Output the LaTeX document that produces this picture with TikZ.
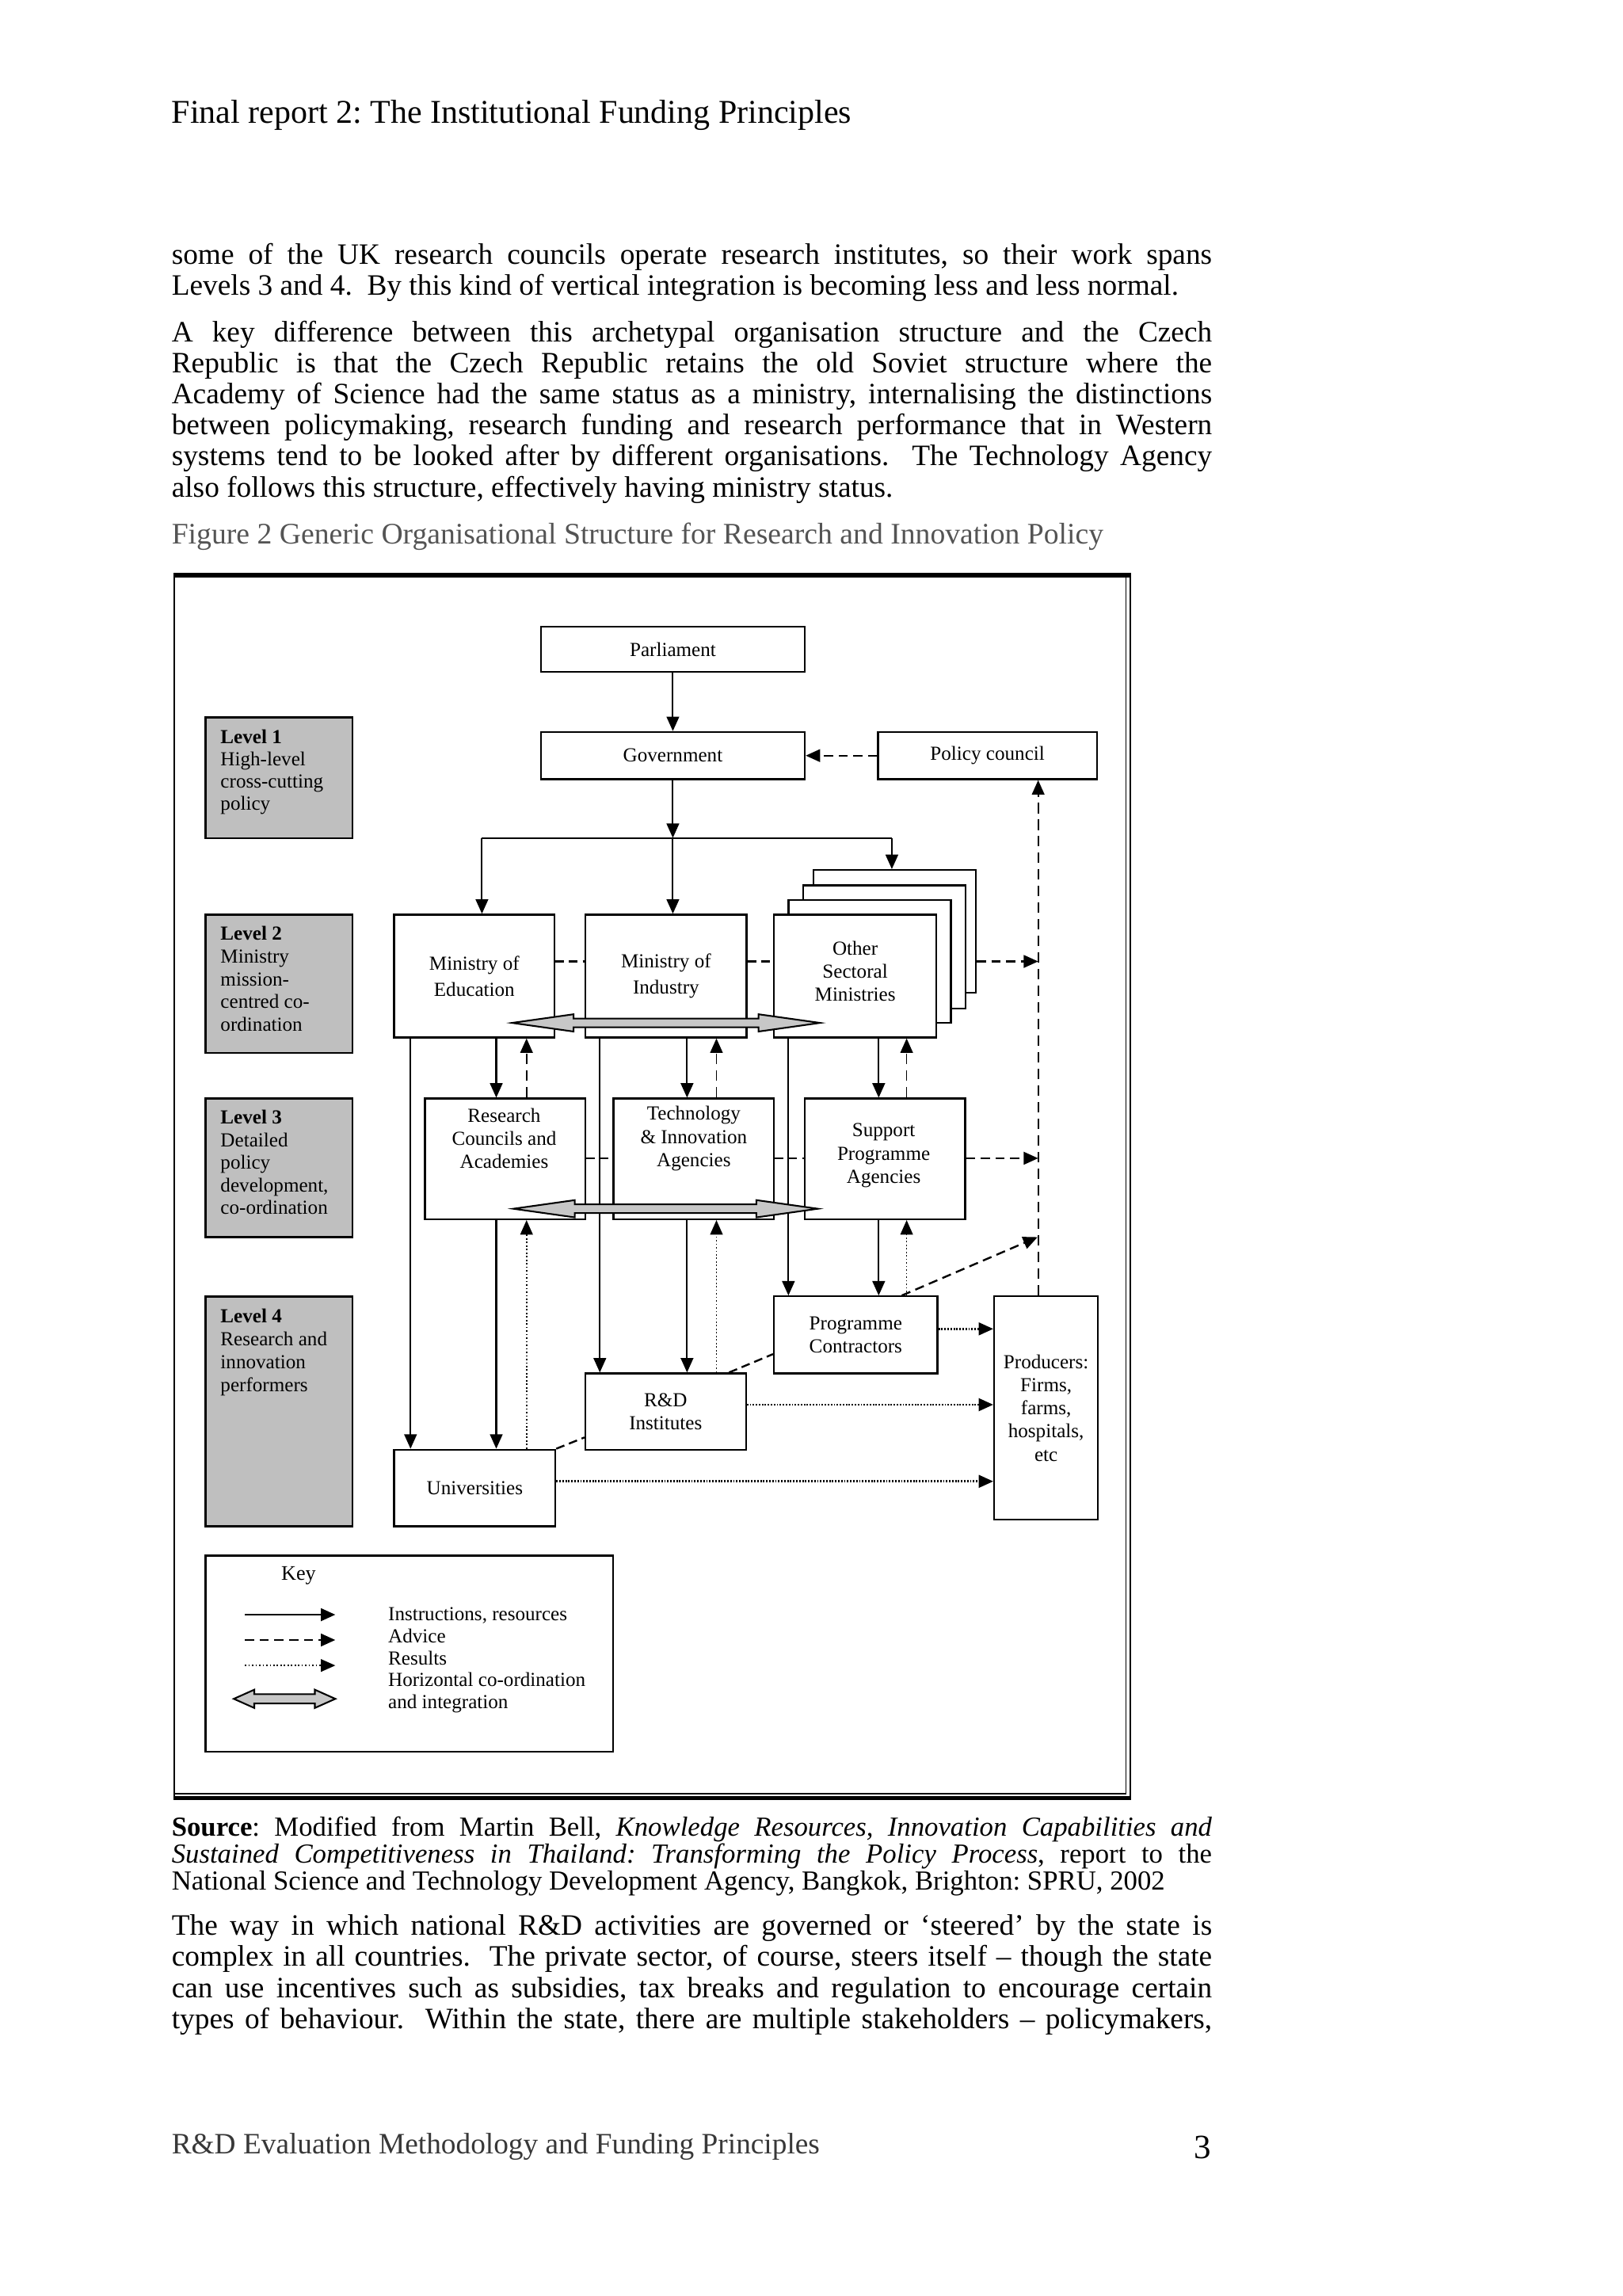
\documentclass[tikz,border=0pt]{standalone}
\usepackage{fontspec}
\setmainfont{Liberation Serif}
\usetikzlibrary{arrows.meta}
\definecolor{lvlgray}{gray}{0.75}
\definecolor{arrgray}{gray}{0.78}
\definecolor{capgray}{gray}{0.33}
\definecolor{footgray}{gray}{0.22}
\frenchspacing
\newcommand\dgfont{\fontsize{7.3}{8.5}\selectfont}
\newcommand\bodyfont{\fontsize{10.85}{11.38}\selectfont}
\newcommand\srcfont{\fontsize{10.1}{9.93}\selectfont}
\newcommand\jline[1]{\hbox to 381.7pt{#1}}
\newcommand\nline[1]{\hbox{#1}}
\newcommand\lvtext[2]{\parbox[t]{50pt}{\fontsize{7.3}{#1}\selectfont\raggedright #2}}
\newcommand\dblarr[6]{%
  \filldraw[fill=arrgray, line width=0.6pt, line join=miter]
  (#1,#3) -- ({#1+#4},{#3-#5}) -- ({#1+#4},{#3-#6}) -- ({#2-#4},{#3-#6})
  -- ({#2-#4},{#3-#5}) -- (#2,#3) -- ({#2-#4},{#3+#5}) -- ({#2-#4},{#3+#6})
  -- ({#1+#4},{#3+#6}) -- ({#1+#4},{#3+#5}) -- cycle;}
\tikzset{
  box/.style={draw, line width=0.65pt, fill=white, inner sep=1pt, align=center, font=\dgfont},
  sz/.style 2 args={minimum width={#1*0.5368pt}, minimum height={#2*0.5368pt}},
  lvl/.style={draw, line width=0.7pt, fill=lvlgray, inner sep=0pt},
  atip/.style={-{Triangle[length=5.3pt,width=4.6pt]}},
  instr/.style={line width=0.6pt, atip},
  instrline/.style={line width=0.6pt},
  advice/.style={line width=0.7pt, dash pattern=on 3.4pt off 2pt, atip},
  adviceline/.style={line width=0.7pt, dash pattern=on 3.2pt off 1.8pt},
  advthin/.style={line width=0.5pt, dash pattern=on 3.8pt off 2.3pt, atip},
  result/.style={line width=0.45pt, dash pattern=on 0.5pt off 0.8pt, atip},
  resultd/.style={line width=0.75pt, dash pattern=on 0.55pt off 0.55pt, atip},
  txt/.style={inner sep=0pt, anchor=base west},
}
\begin{document}
\begin{tikzpicture}[x=0.5368pt, y=-0.5368pt]
\useasboundingbox (0,0) rectangle (1109,1569);
\fill[white] (0,0) rectangle (1109,1569);

% ---------- page text ----------
\node[txt] (head) at (117,84) {\fontsize{12.2}{14}\selectfont Final report 2: The Institutional Funding Principles};

\node[txt] (p1) at (117,180.5) {\parbox[t]{381.7pt}{\bodyfont
\jline{some of the UK research councils operate research institutes, so their work spans}
\nline{Levels 3 and 4.\ \ By this kind of vertical integration is becoming less and less normal.}}};

\node[txt] (p2) at (117,233.5) {\parbox[t]{381.7pt}{\bodyfont
\jline{A key difference between this archetypal organisation structure and the Czech}
\jline{Republic is that the Czech Republic retains the old Soviet structure where the}
\jline{Academy of Science had the same status as a ministry, internalising the distinctions}
\jline{between policymaking, research funding and research performance that in Western}
\jline{systems tend to be looked after by different organisations.\ \ The Technology Agency}
\nline{also follows this structure, effectively having ministry status.}}};

\node[txt, text=capgray] (cap) at (117,371.5) {\fontsize{10.95}{12}\selectfont Figure 2 Generic Organisational Structure for Research and Innovation Policy};

\node[txt] (src) at (117,1254.5) {\parbox[t]{381.7pt}{\srcfont
\jline{\textbf{Source}: Modified from Martin Bell, \textit{Knowledge Resources, Innovation Capabilities and}}
\jline{\textit{Sustained Competitiveness in Thailand: Transforming the Policy Process}, report to the}
\nline{National Science and Technology Development Agency, Bangkok, Brighton: SPRU, 2002}}};

\node[txt] (p3) at (117,1322.5) {\parbox[t]{381.7pt}{\bodyfont
\jline{The way in which national R\&D activities are governed or ‘steered’ by the state is}
\jline{complex in all countries.\ \ The private sector, of course, steers itself – though the state}
\jline{can use incentives such as subsidies, tax breaks and regulation to encourage certain}
\jline{types of behaviour.\ \ Within the state, there are multiple stakeholders – policymakers,}}};

\node[txt, text=footgray] (foot) at (117,1472) {\fontsize{10.85}{13}\selectfont R\&D Evaluation Methodology and Funding Principles};
\node[inner sep=0pt, anchor=base east] (pnum) at (828,1475) {\fontsize{12.5}{14}\selectfont 3};

% ---------- figure frame ----------
\draw[line width=0.6pt] (119,393) -- (119,1228);
\draw[line width=0.6pt] (772.6,393) -- (772.6,1228.5);
\draw[line width=0.5pt] (769.6,393) -- (769.6,1225.6) -- (119,1225.6);
\draw[line width=1.6pt] (118.5,393) -- (773.2,393);
\draw[line width=1.6pt] (118.5,1228.8) -- (773.2,1228.8);

% ---------- level boxes ----------
\node[lvl, sz={100.5}{82.6}] (l1) at (190.75,531.6) {};
\node[lvl, sz={100.5}{94.4}] (l2) at (190.75,672.2) {};
\node[lvl, sz={100.5}{94.8}] (l3) at (190.75,798.1) {};
\node[lvl, sz={100.5}{157.1}] (l4) at (190.75,964.45) {};
\node[txt] (l1t) at (150.4,508) {\lvtext{8.2pt}{\textbf{Level 1}\\High-level\\cross-cutting\\policy}};
\node[txt] (l2t) at (150.4,642.4) {\lvtext{8.35pt}{\textbf{Level 2}\\Ministry\\mission-\\centred co-\\ordination}};
\node[txt] (l3t) at (150.4,768) {\lvtext{8.3pt}{\textbf{Level 3}\\Detailed\\policy\\development,\\co-ordination}};
\node[txt] (l4t) at (150.4,904) {\lvtext{8.45pt}{\textbf{Level 4}\\Research and\\innovation\\performers}};

% ---------- organisation boxes ----------
\node[box, sz={180.4}{30.5}] (parl) at (459.9,443.65) {Parliament};
\node[box, sz={180.4}{32.3}] (gov) at (459.9,516.35) {Government};
\node[box, sz={149.5}{32.3}] (pcouncil) at (674.95,516.35) {Policy council};

\node[box, sz={109.6}{84}, font={\fontsize{7.3}{9.7}\selectfont}] (moe) at (324.2,667) {Ministry of\\Education};
\node[box, sz={110.1}{84}, font={\fontsize{7.3}{9.7}\selectfont}] (moi) at (455.25,667) {Ministry of\\Industry};
\node[box, sz={111}{84}] (osm3) at (611.5,636.5) {};
\node[box, sz={111}{84}] (osm2) at (604.5,647) {};
\node[box, sz={111}{84}] (osm1) at (594.5,657) {};
\node[box, sz={111}{84}] (osm) at (584.5,667) {};
\node[inner sep=0pt, align=center, font=\dgfont] (osmt) at (584.5,663.8) {Other\\Sectoral\\Ministries};

\node[box, sz={109.6}{82.5}] (rca) at (345.2,791.95) {};
\node[inner sep=0pt, align=center, font=\dgfont] (rcat) at (344.6,778) {Research\\Councils and\\Academies};
\node[box, sz={109.7}{82.5}] (tia) at (474.15,791.95) {};
\node[inner sep=0pt, align=center, font=\dgfont] (tiat) at (474.2,778) {Technology\\\&~Innovation\\Agencies};
\node[box, sz={109.7}{82.5}] (spa) at (604.85,791.95) {};
\node[inner sep=0pt, align=center, font=\dgfont] (spat) at (604,789.6) {Support\\Programme\\Agencies};

\node[box, sz={111.8}{52.6}] (prc) at (584.9,912.2) {Programme\\Contractors};
\node[box, sz={109.7}{52.1}] (rdi) at (454.95,964.55) {R\&D\\Institutes};
\node[box, sz={110.2}{52.4}] (uni) at (324.5,1016.8) {Universities};
\node[box, sz={71}{152.5}] (prod) at (715,962.15) {Producers:\\Firms,\\farms,\\hospitals,\\etc};

% ---------- helper coordinates ----------
\coordinate (xa) at (280.6,0);
\coordinate (xb) at (339.2,0);
\coordinate (xc) at (359.9,0);
\coordinate (xd) at (410,0);
\coordinate (xe) at (469.6,0);
\coordinate (xf) at (489.7,0);
\coordinate (xg) at (538.9,0);
\coordinate (xh) at (600.6,0);
\coordinate (xi) at (619.7,0);
\coordinate (xv) at (709.6,0);
\coordinate (r2) at (0,657);
\coordinate (r3) at (0,791.5);
\coordinate (rp1) at (0,908.1);
\coordinate (rp2) at (0,959.9);
\coordinate (rp3) at (0,1012.3);
\coordinate (j) at (459.9,572.6);
\coordinate (jl) at (329.4,572.6);
\coordinate (jr) at (609.6,572.6);
\coordinate (dtip) at (709.2,845.4);

% ---------- level 1 connectors ----------
\draw[instr] (parl.south) -- (gov.north);
\draw[advice] (pcouncil.west) -- (gov.east);
\draw[instr] (gov.south) -- (j);
\draw[instrline] (jl) -- (jr);
\draw[instr] (jl) -- (moe.north -| jl);
\draw[instr] (j) -- (moi.north -| j);
\draw[instr] (jr) -- (osm3.north -| jr);

% ---------- horizontal advice links ----------
\draw[adviceline] (moe.east |- r2) -- (moi.west |- r2);
\draw[adviceline] (moi.east |- r2) -- (osm.west |- r2);
\draw[advice] (osm3.east |- r2) -- (xv |- r2);
\draw[adviceline] (rca.east |- r3) -- (tia.west |- r3);
\draw[adviceline] (tia.east |- r3) -- (spa.west |- r3);
\draw[advice] (spa.east |- r3) -- (xv |- r3);
\draw[advthin] (prod.north -| xv) -- (pcouncil.south -| xv);

% ---------- level 2 <-> level 3 ----------
\draw[instr] (moe.south -| xb) -- (rca.north -| xb);
\draw[advthin] (rca.north -| xc) -- (moe.south -| xc);
\draw[instr] (moi.south -| xe) -- (tia.north -| xe);
\draw[advthin] (tia.north -| xf) -- (moi.south -| xf);
\draw[instr] (osm.south -| xh) -- (spa.north -| xh);
\draw[advthin] (spa.north -| xi) -- (osm.south -| xi);

% ---------- long lines to level 4 ----------
\draw[instr] (moe.south -| xa) -- (uni.north -| xa);
\draw[instr] (moi.south -| xd) -- (rdi.north -| xd);
\draw[instr] (osm.south -| xg) -- (prc.north -| xg);

% ---------- level 3 <-> level 4 ----------
\draw[instr] (rca.south -| xb) -- (uni.north -| xb);
\draw[result] (uni.north -| xc) -- (rca.south -| xc);
\draw[instr] (tia.south -| xe) -- (rdi.north -| xe);
\draw[result] (rdi.north -| xf) -- (tia.south -| xf);
\draw[instr] (spa.south -| xh) -- (prc.north -| xh);
\draw[result] (prc.north -| xi) -- (spa.south -| xi);

% ---------- results to producers ----------
\draw[resultd] (prc.east |- rp1) -- (prod.west |- rp1);
\draw[resultd] (rdi.east |- rp2) -- (prod.west |- rp2);
\draw[resultd] (uni.east |- rp3) -- (prod.west |- rp3);

% ---------- diagonal links ----------
\draw[adviceline] (uni.north east) -- ([yshift=4.8pt]rdi.south west);
\draw[adviceline] ([xshift=-6.5pt]rdi.north east) -- ([yshift=7.4pt]prc.south west);
\draw[advice] ([xshift=16.9pt]prc.north) -- (dtip);

% ---------- horizontal co-ordination arrows ----------
\dblarr{350}{560.5}{699}{42}{5.9}{3}
\dblarr{350.9}{559}{826}{42}{5.9}{3}

% ---------- key ----------
\node[draw, line width=0.65pt, fill=white, sz={278.5}{134}] (key) at (279.75,1130) {};
\node[inner sep=0pt, font={\fontsize{7.6}{9}\selectfont}] (keyt) at (204.1,1076.9) {Key};
\coordinate (ks1) at (167.4,1103.4); \coordinate (ke1) at (229.2,1103.4);
\coordinate (ks2) at (167.4,1120.7); \coordinate (ke2) at (229.2,1120.7);
\coordinate (ks3) at (167.4,1138.1); \coordinate (ke3) at (229.2,1138.1);
\draw[instr, line width=0.75pt] (ks1) -- (ke1);
\draw[advice] (ks2) -- (ke2);
\draw[result] (ks3) -- (ke3);
\dblarr{159.8}{229.2}{1160.9}{14}{6.25}{3.2}
\node[txt] (keyl) at (265,1107.6) {\parbox[t]{90pt}{\fontsize{7.3}{8.05}\selectfont\raggedright Instructions, resources\\Advice\\Results\\Horizontal co-ordination\\and integration}};
\end{tikzpicture}
\end{document}
